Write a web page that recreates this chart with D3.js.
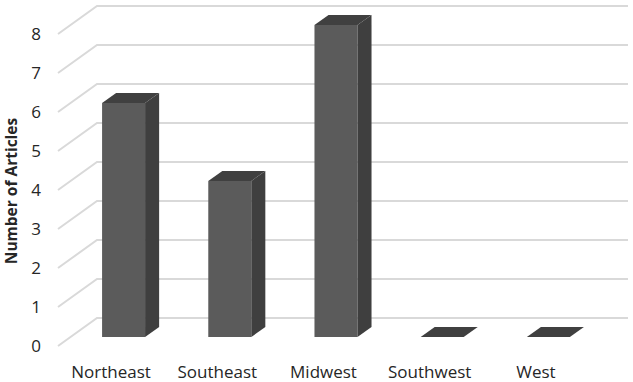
<!DOCTYPE html>
<html><head><meta charset="utf-8">
<script src="https://cdn.jsdelivr.net/npm/d3@7"></script>
<style>body{margin:0;background:#fff}svg{display:block}</style>
</head><body>
<svg id="c" width="633" height="382"></svg>
<script>
const categories = ["Northeast","Southeast","Midwest","Southwest","West"];
const values = [6,4,8,0,0];
const yTicks = [0,1,2,3,4,5,6,7,8];
const yTitle = "Number of Articles";

const svg = d3.select("#c");
const font = "'Open Sans', sans-serif";
const DX = 39, DY = -28;           // depth vector of the floor
const x = d3.scaleBand().domain(categories).range([58,589]).paddingInner(0.595).paddingOuter(0.2975);
const y = d3.scaleLinear().domain([0,8]).range([346,34]);
const P = (px, v, t) => [px + DX*t, y(v) + DY*t];
const pts = a => a.map(p => p.join(",")).join(" ");

// gridlines: side wall diagonal + back wall
const g = svg.append("g");
yTicks.forEach(v => {
  const a = P(58, v, 0), b = P(58, v, 1), c = P(589, v, 1);
  g.append("polyline").attr("points", pts([a,b,c]))
    .attr("fill","none").attr("stroke","#d9d9d9").attr("stroke-width",2);
});

// tick labels
svg.append("g").selectAll("text").data(yTicks).join("text")
  .attr("x", 41).attr("y", d => y(d)).attr("dy","0.36em")
  .attr("text-anchor","end").attr("font-family",font).attr("font-size",17).attr("fill","#262626")
  .text(d => d);

// axis title
svg.append("text").attr("transform","translate(17,191) rotate(-90)")
  .attr("text-anchor","middle").attr("font-family",font).attr("font-size",15.5)
  .attr("font-weight","bold").attr("fill","#262626").text(yTitle);

// bars
const t0 = 0.32, t1 = 0.68;
const bars = svg.append("g");
categories.forEach((cat, i) => {
  const v = values[i];
  const xl = x(cat), xr = xl + x.bandwidth();
  if (v > 0) {
    bars.append("polygon").attr("points", pts([P(xl,0,t0),P(xr,0,t0),P(xr,v,t0),P(xl,v,t0)]))
      .attr("fill","#5b5b5b");
    bars.append("polygon").attr("points", pts([P(xr,0,t0),P(xr,0,t1),P(xr,v,t1),P(xr,v,t0)]))
      .attr("fill","#3f3f3f");
  }
  bars.append("polygon").attr("points", pts([P(xl,v,t0),P(xr,v,t0),P(xr,v,t1),P(xl,v,t1)]))
    .attr("fill", "#404040");
});

// category labels
svg.append("g").selectAll("text").data(categories).join("text")
  .attr("x", d => x(d) + x.bandwidth()/2).attr("y", 378)
  .attr("text-anchor","middle").attr("font-family",font).attr("font-size",17).attr("fill","#262626")
  .text(d => d);
</script>
</body></html>
